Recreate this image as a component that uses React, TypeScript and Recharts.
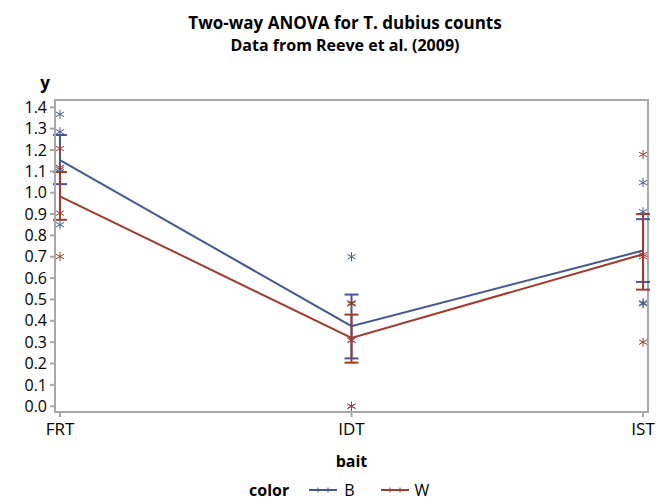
import React from 'react';
import { ComposedChart, Line, Scatter, XAxis, YAxis, ErrorBar, ReferenceArea } from 'recharts';

const baits = ['FRT', 'IDT', 'IST'];
const yTicks = [0, 0.1, 0.2, 0.3, 0.4, 0.5, 0.6, 0.7, 0.8, 0.9, 1.0, 1.1, 1.2, 1.3, 1.4];
const yDomain = [-0.027, 1.434];

// group means and error limits
const bMean = [1.153, 0.375, 0.729];
const bLower = [1.04, 0.224, 0.582];
const bUpper = [1.27, 0.523, 0.876];
const wMean = [0.983, 0.32, 0.712];
const wLower = [0.873, 0.204, 0.546];
const wUpper = [1.097, 0.429, 0.9];

// raw observations (stars)
const bObs = [
  [1.367, 1.285, 1.11, 0.85],
  [0.7, 0.48, 0.31, 0.0],
  [1.047, 0.911, 0.484, 0.48],
];
const wObs = [
  [1.207, 1.118, 0.904, 0.701],
  [0.484, 0.48, 0.308, 0.0],
  [1.179, 0.71, 0.7, 0.3],
];

const BLUE = '#445694';
const RED = '#a23a2e';
const FRAME = '#a8a8a8';
const FONT = '"Open Sans", "DejaVu Sans", sans-serif';

const meanRows = (mean: number[], lower: number[], upper: number[]) =>
  baits.map((_, i) => ({ x: i, y: mean[i], err: [mean[i] - lower[i], upper[i] - mean[i]] }));

const obsRows = (obs: number[][]) => obs.flatMap((vals, i) => vals.map((v) => ({ x: i, y: v })));

const bMeans = meanRows(bMean, bLower, bUpper);
const wMeans = meanRows(wMean, wLower, wUpper);
const bPoints = obsRows(bObs);
const wPoints = obsRows(wObs);

const star = (color: string) => (props: any) => {
  const { cx, cy } = props;
  return (
    <g stroke={color} strokeWidth={1}>
      <line x1={cx} y1={cy - 4.5} x2={cx} y2={cy + 4.5} />
      <line x1={cx - 4} y1={cy - 2.3} x2={cx + 4} y2={cy + 2.3} />
      <line x1={cx - 4} y1={cy + 2.3} x2={cx + 4} y2={cy - 2.3} />
    </g>
  );
};

const LegendIcon = ({ color }: { color: string }) => (
  <svg width={28} height={10} style={{ display: 'block' }}>
    <line x1={0} y1={5} x2={28} y2={5} stroke={color} strokeWidth={2} />
    <line x1={9} y1={2.5} x2={9} y2={7.5} stroke={color} strokeWidth={1} />
    <line x1={19} y1={2.5} x2={19} y2={7.5} stroke={color} strokeWidth={1} />
  </svg>
);

const App: React.FC = () => {
  return (
    <div style={{ position: 'absolute', left: 0, top: 0, width: 666, height: 504, background: '#fff', fontFamily: FONT }}>
      <div style={{ position: 'absolute', left: 0, width: 690, top: 12, textAlign: 'center', fontWeight: 700, color: '#000' }}>
        <div style={{ fontSize: 17, lineHeight: '22px' }}>Two-way ANOVA for T. dubius counts</div>
        <div style={{ fontSize: 16, lineHeight: '22px' }}>Data from Reeve et al. (2009)</div>
      </div>

      <ComposedChart width={666} height={504} margin={{ top: 100, right: 18, bottom: 32, left: 0 }}>
        <XAxis
          dataKey="x"
          type="number"
          domain={[-0.017, 2.017]}
          ticks={[0, 1, 2]}
          interval={0}
          tickFormatter={(v: number) => baits[v]}
          height={60}
          stroke={FRAME}
          strokeWidth={2}
          tickSize={5}
          tickMargin={6}
          tick={{ fill: '#000', fontSize: 17, fontFamily: FONT }}
          label={{ value: 'bait', position: 'insideBottom', offset: 5, fill: '#000', fontSize: 16, fontWeight: 700, fontFamily: FONT }}
        />
        <YAxis
          dataKey="y"
          type="number"
          domain={yDomain}
          ticks={yTicks}
          interval={0}
          tickFormatter={(v: number) => v.toFixed(1)}
          width={55}
          stroke={FRAME}
          strokeWidth={2}
          tickSize={5}
          tickMargin={3}
          tick={{ fill: '#000', fontSize: 16, fontFamily: FONT }}
          label={({ viewBox }: any) => (
            <text x={viewBox.x + viewBox.width - 10} y={viewBox.y - 11} textAnchor="middle" fontSize={17} fontWeight={700} fontFamily={FONT} fill="#000">
              y
            </text>
          )}
        />

        {/* plot frame */}
        <ReferenceArea y1={yDomain[0]} y2={yDomain[1]} fill="none" stroke={FRAME} strokeWidth={2} ifOverflow="visible" />

        <Scatter data={bPoints} dataKey="y" shape={star(BLUE)} isAnimationActive={false} />
        <Scatter data={wPoints} dataKey="y" shape={star(RED)} isAnimationActive={false} />

        <Line data={bMeans} dataKey="y" stroke={BLUE} strokeWidth={2} dot={false} activeDot={false} isAnimationActive={false}>
          <ErrorBar dataKey="err" direction="y" width={7} stroke={BLUE} strokeWidth={2} isAnimationActive={false} />
        </Line>
        <Line data={wMeans} dataKey="y" stroke={RED} strokeWidth={2} dot={false} activeDot={false} isAnimationActive={false}>
          <ErrorBar dataKey="err" direction="y" width={7} stroke={RED} strokeWidth={2} isAnimationActive={false} />
        </Line>
      </ComposedChart>

      <div style={{ position: 'absolute', left: 249, top: 478, display: 'flex', alignItems: 'center', fontSize: 16, color: '#000', lineHeight: '24px' }}>
        <span style={{ fontWeight: 700, marginRight: 20 }}>color</span>
        <LegendIcon color={BLUE} />
        <span style={{ marginLeft: 7, marginRight: 26 }}>B</span>
        <LegendIcon color={RED} />
        <span style={{ marginLeft: 6 }}>W</span>
      </div>
    </div>
  );
};

export default App;
